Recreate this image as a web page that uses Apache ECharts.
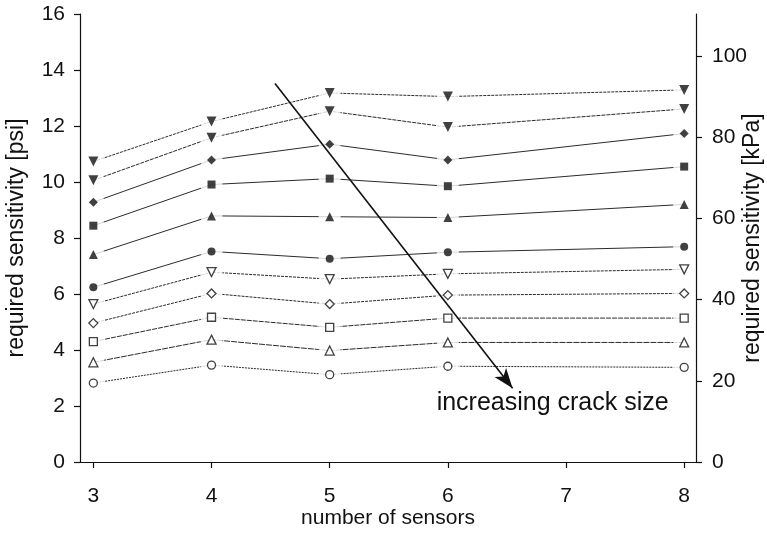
<!DOCTYPE html>
<html>
<head>
<meta charset="utf-8">
<script src="https://cdn.jsdelivr.net/npm/echarts@6/dist/echarts.min.js"></script>
<style>
  html, body { margin: 0; padding: 0; background: #fff; }
  #chart { width: 767px; height: 533px; }
</style>
</head>
<body>
<div id="chart"></div>
<script>
// number of sensors on the x axis (no run at 7)
const sensors = [3, 4, 5, 6, 8];
const xTicks = [3, 4, 5, 6, 7, 8];
const psiTicks = [0, 2, 4, 6, 8, 10, 12, 14, 16];
const kpaTicks = [0, 20, 40, 60, 80, 100];
const PSI_TO_KPA = 6.894757;

// required sensitivity [psi], from the largest crack (top) to the smallest (bottom)
const crackA = [10.73, 12.16, 13.18, 13.05, 13.29];
const crackB = [10.06, 11.58, 12.53, 11.96, 12.61];
const crackC = [9.28, 10.79, 11.35, 10.79, 11.73];
const crackD = [8.44, 9.91, 10.12, 9.85, 10.55];
const crackE = [7.41, 8.79, 8.76, 8.73, 9.20];
const crackF = [6.24, 7.52, 7.26, 7.49, 7.69];
const crackG = [5.64, 6.78, 6.53, 6.72, 6.88];
const crackH = [4.96, 6.02, 5.64, 5.96, 6.02];
const crackI = [4.30, 5.17, 4.81, 5.14, 5.14];
const crackJ = [3.56, 4.37, 3.98, 4.27, 4.27];
const crackK = [2.82, 3.46, 3.12, 3.42, 3.38];

// arrow "increasing crack size": start and tip in (sensors, psi)
const arrowStart = [4.537, 13.52];
const arrowEnd = [6.548, 2.63];
const arrowText = 'increasing crack size';
const arrowTextAt = [5.905, 2.12];

const FONT = '"Liberation Sans", Arial, Helvetica, sans-serif';
const INK = '#111';

const styles = [
  { data: crackA, symbol: 'triangle', rotate: 180, filled: true,  size: 10, dash: [3, 1] },
  { data: crackB, symbol: 'triangle', rotate: 180, filled: true,  size: 10, dash: [4, 1] },
  { data: crackC, symbol: 'diamond',  rotate: 0,   filled: true,  size: 9,  dash: 'solid' },
  { data: crackD, symbol: 'rect',     rotate: 0,   filled: true,  size: 8,  dash: 'solid' },
  { data: crackE, symbol: 'triangle', rotate: 0,   filled: true,  size: 9,  dash: 'solid' },
  { data: crackF, symbol: 'circle',   rotate: 0,   filled: true,  size: 8,  dash: 'solid' },
  { data: crackG, symbol: 'triangle', rotate: 180, filled: false, size: 9,  dash: [3, 1] },
  { data: crackH, symbol: 'diamond',  rotate: 0,   filled: false, size: 9,  dash: [3, 1] },
  { data: crackI, symbol: 'rect',     rotate: 0,   filled: false, size: 8,  dash: [5, 1] },
  { data: crackJ, symbol: 'triangle', rotate: 0,   filled: false, size: 9,  dash: [6, 1] },
  { data: crackK, symbol: 'circle',   rotate: 0,   filled: false, size: 8,  dash: [2, 1] }
];

const pairs = arr => sensors.map((s, i) => [s, arr[i]]);

const series = [];
styles.forEach(st => {
  // connecting line
  series.push({
    type: 'line', data: pairs(st.data), showSymbol: false, silent: true, z: 2,
    lineStyle: { color: '#2b2b2b', width: 1, type: st.dash }, animation: false
  });
  // white gap round each point
  series.push({
    type: 'scatter', data: pairs(st.data), symbol: 'circle', symbolSize: 22, silent: true, z: 3,
    itemStyle: { color: '#fff' }, animation: false
  });
  // marker
  series.push({
    type: 'scatter', data: pairs(st.data), symbol: st.symbol, symbolRotate: st.rotate,
    symbolSize: st.size, silent: true, z: 4, animation: false,
    itemStyle: st.filled
      ? { color: INK }
      : { color: '#fff', borderColor: INK, borderWidth: 1.3 }
  });
});

// arrow
series.push({
  type: 'line', data: [], z: 6, silent: true, animation: false,
  markLine: {
    silent: true, animation: false, z: 6,
    symbol: ['none', 'arrow'], symbolSize: [11, 20],
    label: { show: false },
    lineStyle: { color: INK, width: 1.6, type: 'solid' },
    data: [[{ coord: arrowStart }, { coord: arrowEnd }]]
  }
});

const axisLine = { show: true, lineStyle: { color: INK, width: 1.2 } };
const axisTick = { show: true, length: 6, inside: false, lineStyle: { color: INK, width: 1.2 } };
const labelFont = { color: INK, fontFamily: FONT, fontSize: 21 };
const xNameFont = { color: INK, fontFamily: FONT, fontSize: 21 };
const yNameFont = { color: INK, fontFamily: FONT, fontSize: 23 };

const chart = echarts.init(document.getElementById('chart'), null, { renderer: 'canvas' });
chart.setOption({
  backgroundColor: '#fff',
  animation: false,
  grid: { left: 80, right: 71, top: 14, bottom: 71, containLabel: false, outerBoundsMode: 'none' },
  xAxis: {
    type: 'value', min: 2.887, max: 8.1,
    name: 'number of sensors', nameLocation: 'middle', nameGap: 46, nameMoveOverlap: false,
    nameTextStyle: xNameFont,
    axisLine, axisTick: Object.assign({}, axisTick, { customValues: xTicks }),
    axisLabel: Object.assign({}, labelFont, { margin: 24, customValues: xTicks }),
    splitLine: { show: false }
  },
  yAxis: [
    {
      type: 'value', min: 0, max: 16, position: 'left',
      name: 'required sensitivity [psi]', nameLocation: 'middle', nameGap: 52, nameMoveOverlap: false,
      nameTextStyle: yNameFont,
      axisLine, axisTick: Object.assign({}, axisTick, { customValues: psiTicks }),
      axisLabel: Object.assign({}, labelFont, { margin: 15, customValues: psiTicks }),
      splitLine: { show: false }
    },
    {
      type: 'value', min: 0, max: 16 * PSI_TO_KPA, position: 'right',
      name: 'required sensitivity [kPa]', nameLocation: 'middle', nameGap: 45, nameMoveOverlap: false,
      nameRotate: 90,
      nameTextStyle: yNameFont,
      axisLine, axisTick: Object.assign({}, axisTick, { customValues: kpaTicks }),
      axisLabel: Object.assign({}, labelFont, { margin: 16, customValues: kpaTicks }),
      splitLine: { show: false }
    }
  ],
  series
});

// annotation text next to the arrow tip
const p = chart.convertToPixel({ xAxisIndex: 0, yAxisIndex: 0 }, arrowTextAt);
chart.setOption({
  graphic: [{
    type: 'text', x: p[0], y: p[1], z: 10, silent: true,
    style: {
      text: arrowText, fill: INK, font: '25px ' + FONT,
      textAlign: 'left', textVerticalAlign: 'middle'
    }
  }]
});
</script>
</body>
</html>
